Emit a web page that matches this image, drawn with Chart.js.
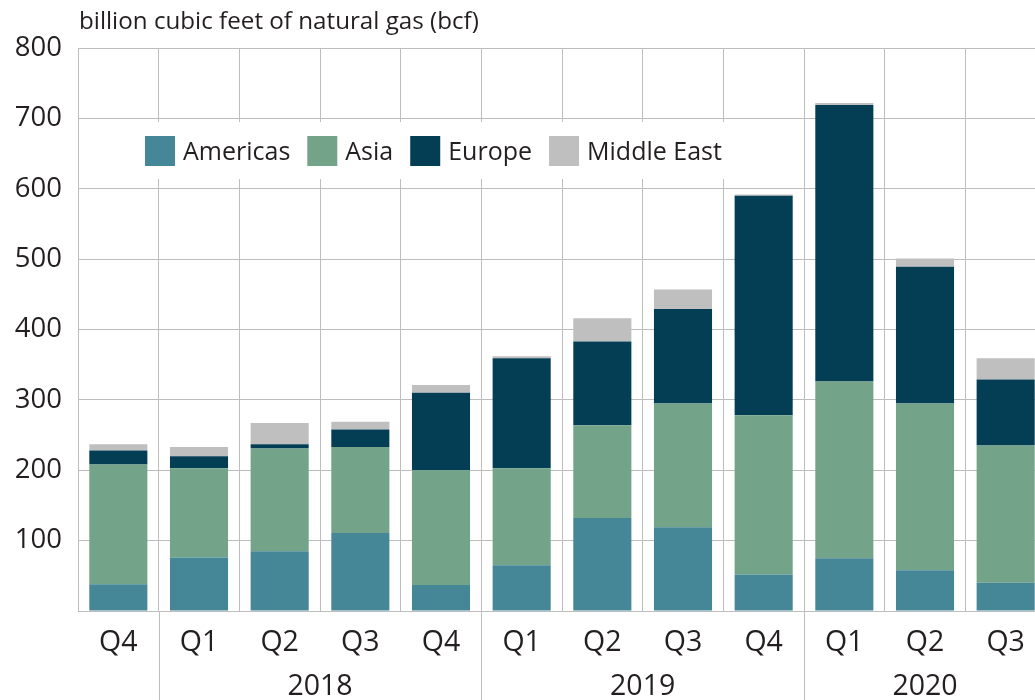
<!DOCTYPE html>
<html>
<head>
<meta charset="utf-8">
<script src="https://cdn.jsdelivr.net/npm/chart.js@4/dist/chart.umd.min.js"></script>
<style>
  html, body { margin: 0; padding: 0; background: #fff; overflow: hidden; }
  #wrap { position: relative; width: 1046px; height: 700px; }
</style>
</head>
<body>
<div id="wrap"><canvas id="c" width="1046" height="700"></canvas></div>
<script>
// ---- data ----
const categories = ['Q4','Q1','Q2','Q3','Q4','Q1','Q2','Q3','Q4','Q1','Q2','Q3'];
const americas   = [38, 76, 85, 111, 37, 65, 132, 119, 52, 75, 58, 40];
const asia       = [170, 127, 146, 122, 163, 138, 132, 176, 226, 251, 237, 195];
const europe     = [20, 17, 6, 25, 110, 156, 119, 134, 312, 393, 194, 94];
const middleEast = [9, 13, 30, 11, 11, 3, 33, 28, 2, 3, 12, 30];
const yTicks     = [0, 100, 200, 300, 400, 500, 600, 700, 800];
const years      = ['2018', '2019', '2020'];
const yearFirst  = [1, 5, 9];   // first category index of each year
const yearLast   = [4, 8, 11];  // last category index of each year shown
const titleText  = 'billion cubic feet of natural gas (bcf)';

const FONT = "'Open Sans', 'Noto Sans', sans-serif";
const TEXT = '#231f20';
const GRID = '#bdbdbd';

const overlay = {
  id: 'overlay',
  beforeDatasetsDraw(chart) {
    const ctx = chart.ctx, ca = chart.chartArea;
    // legend box (white, hides gridlines)
    ctx.save();
    ctx.fillStyle = '#fff';
    ctx.fillRect(ca.left + 1, 122, 725 - ca.left, 57);
    ctx.font = '25px ' + FONT;
    ctx.textBaseline = 'middle';
    let x = 145;
    chart.data.datasets.forEach(ds => {
      ctx.fillStyle = ds.backgroundColor;
      ctx.fillRect(x, 136, 30, 30);
      x += 38;
      ctx.fillStyle = TEXT;
      ctx.textAlign = 'left';
      ctx.fillText(ds.label, x, 153);
      x += ctx.measureText(ds.label).width + 17;
    });
    ctx.restore();
  },
  afterDraw(chart) {
    const ctx = chart.ctx, ca = chart.chartArea, xs = chart.scales.x;
    ctx.save();
    // title
    ctx.font = '24.2px ' + FONT;
    ctx.fillStyle = TEXT;
    ctx.textAlign = 'left';
    ctx.textBaseline = 'alphabetic';
    ctx.fillText(titleText, 79, 29);
    // year separators and labels
    ctx.strokeStyle = GRID;
    ctx.lineWidth = 1;
    years.forEach((yr, i) => {
      const a = xs.getPixelForValue(yearFirst[i]);
      const b = xs.getPixelForValue(yearLast[i]);
      const sep = (xs.getPixelForValue(yearFirst[i] - 1) + a) / 2;
      ctx.beginPath();
      ctx.moveTo(Math.round(sep) + 0.5, ca.bottom);
      ctx.lineTo(Math.round(sep) + 0.5, 700);
      ctx.stroke();
      ctx.font = '28.5px ' + FONT;
      ctx.textAlign = 'center';
      ctx.textBaseline = 'middle';
      ctx.fillText(yr, (a + b) / 2, 687);
    });
    ctx.restore();
  }
};

const mk = (label, data, color) => ({
  label, data, backgroundColor: color, borderWidth: 0,
  barPercentage: 0.72, categoryPercentage: 1
});

new Chart(document.getElementById('c'), {
  type: 'bar',
  data: {
    labels: categories,
    datasets: [
      mk('Americas', americas, '#458797'),
      mk('Asia', asia, '#73a48a'),
      mk('Europe', europe, '#033e55'),
      mk('Middle East', middleEast, '#bfbfbf')
    ]
  },
  options: {
    responsive: false,
    animation: false,
    devicePixelRatio: 1,
    layout: { padding: { top: 48, left: 0, right: 0, bottom: 0 } },
    plugins: { legend: { display: false }, tooltip: { enabled: false }, title: { display: false } },
    scales: {
      x: {
        stacked: true,
        grid: { color: GRID, lineWidth: 1, drawTicks: false, offset: true },
        border: { display: true, color: GRID },
        ticks: { color: TEXT, font: { family: FONT, size: 28.5 }, padding: 15, maxRotation: 0, autoSkip: false },
        afterFit: s => { s.height = 89; }
      },
      y: {
        stacked: true,
        min: yTicks[0], max: yTicks[yTicks.length - 1],
        afterBuildTicks: s => { s.ticks = yTicks.map(v => ({ value: v })); },
        grid: { color: GRID, lineWidth: 1, drawTicks: false },
        border: { display: true, color: GRID },
        ticks: { color: TEXT, font: { family: FONT, size: 27.5 }, padding: 16,
                 callback: v => v === 0 ? '' : String(v) },
        afterFit: s => { s.width = 78; }
      }
    }
  },
  plugins: [overlay]
});
</script>
</body>
</html>
